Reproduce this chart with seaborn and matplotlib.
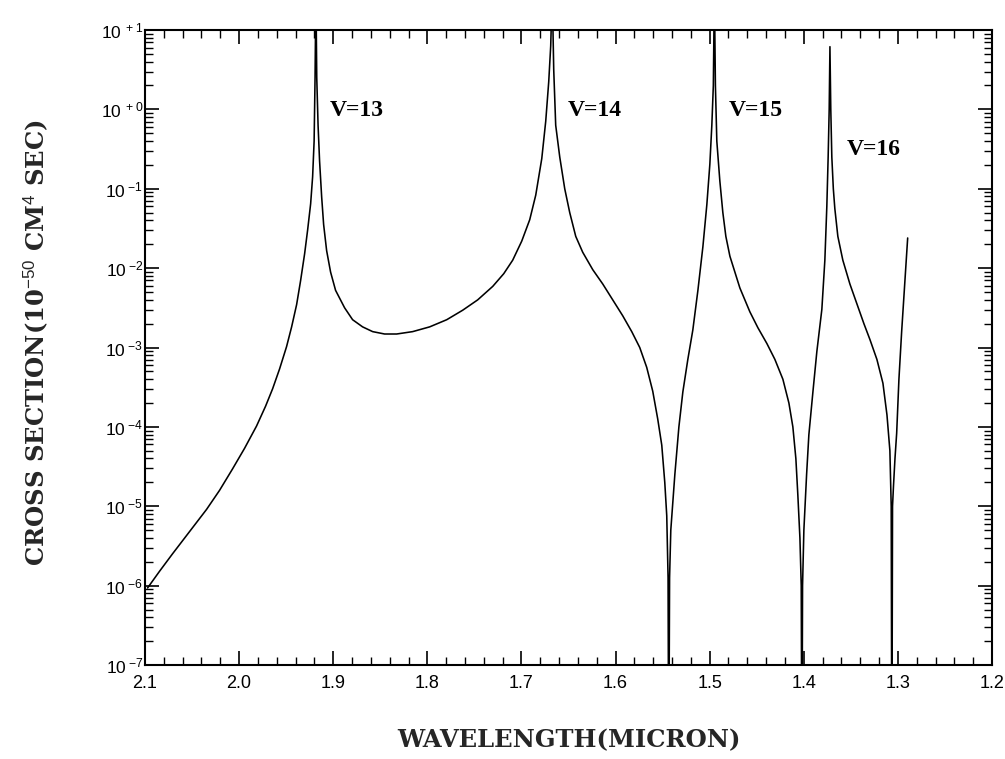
import numpy as np
import pandas as pd
import matplotlib
matplotlib.use("Agg")
import matplotlib.pyplot as plt
import seaborn as sns
from matplotlib.ticker import FixedLocator, FixedFormatter, MultipleLocator, LogLocator, NullFormatter

# ---- data (wavelength in micron, log10 of cross section) ----
wavelength = [
    2.0973, 2.0846, 2.0708, 2.0527, 2.0346, 2.0208, 2.0070, 1.9942, 1.9815, 1.9719,
    1.9644, 1.9570, 1.9496, 1.9442, 1.9389, 1.9347, 1.9304, 1.9272, 1.9240, 1.9219,
    1.9203, 1.9193, 1.9184, 1.9175, 1.9161, 1.9145, 1.9123, 1.9102, 1.9070, 1.9028,
    1.8975, 1.8879, 1.8794, 1.8688, 1.8581, 1.8454, 1.8326, 1.8156, 1.7975, 1.7794,
    1.7624, 1.7465, 1.7305, 1.7188, 1.7093, 1.6997, 1.6912, 1.6848, 1.6784, 1.6742,
    1.6710, 1.6689, 1.6673, 1.6657, 1.6636, 1.6593, 1.6540, 1.6487, 1.6423, 1.6349,
    1.6242, 1.6136, 1.6030, 1.5924, 1.5828, 1.5743, 1.5669, 1.5605, 1.5552, 1.5509,
    1.5477, 1.5456, 1.5442, 1.5435, 1.5426, 1.5413, 1.5370, 1.5327, 1.5285, 1.5232,
    1.5179, 1.5125, 1.5072, 1.5030, 1.4998, 1.4977, 1.4961, 1.4950, 1.4939, 1.4924,
    1.4892, 1.4860, 1.4828, 1.4785, 1.4732, 1.4679, 1.4573, 1.4488, 1.4392, 1.4307,
    1.4222, 1.4158, 1.4116, 1.4084, 1.4063, 1.4041, 1.4027, 1.4020, 1.4013, 1.3999,
    1.3970, 1.3946, 1.3903, 1.3861, 1.3808, 1.3776, 1.3755, 1.3741, 1.3730, 1.3722,
    1.3713, 1.3702, 1.3686, 1.3670, 1.3638, 1.3585, 1.3510, 1.3436, 1.3361, 1.3297,
    1.3223, 1.3159, 1.3116, 1.3085, 1.3071, 1.3064, 1.3057, 1.3047, 1.3031, 1.3013,
    1.2989, 1.2960, 1.2930, 1.2896,
]
log_cross_section = [
    -6.03, -5.82, -5.60, -5.32, -5.04, -4.80, -4.53, -4.27, -3.99, -3.74,
    -3.52, -3.27, -2.99, -2.74, -2.46, -2.16, -1.82, -1.52, -1.19, -0.85,
    -0.40, 0.40, 1.50, 0.40, -0.20, -0.65, -1.10, -1.45, -1.78, -2.05,
    -2.28, -2.50, -2.65, -2.74, -2.80, -2.83, -2.83, -2.80, -2.74, -2.65,
    -2.53, -2.40, -2.23, -2.07, -1.90, -1.66, -1.39, -1.08, -0.62, -0.15,
    0.35, 0.80, 1.50, 0.50, -0.20, -0.60, -1.00, -1.30, -1.60, -1.80,
    -2.02, -2.20, -2.40, -2.60, -2.80, -3.00, -3.25, -3.55, -3.90, -4.23,
    -4.70, -5.12, -5.90, -8.50, -5.90, -5.30, -4.60, -4.00, -3.56, -3.15,
    -2.78, -2.28, -1.73, -1.20, -0.69, -0.20, 0.30, 1.50, 0.30, -0.40,
    -0.90, -1.30, -1.60, -1.85, -2.05, -2.25, -2.55, -2.75, -2.95, -3.15,
    -3.40, -3.70, -4.00, -4.40, -4.86, -5.40, -6.00, -8.50, -6.00, -5.30,
    -4.60, -4.10, -3.56, -3.05, -2.52, -1.90, -1.22, -0.60, 0.00, 0.79,
    0.00, -0.60, -1.00, -1.25, -1.60, -1.90, -2.20, -2.45, -2.70, -2.90,
    -3.15, -3.45, -3.85, -4.30, -5.00, -8.50, -5.00, -4.75, -4.40, -4.08,
    -3.40, -2.80, -2.25, -1.62,
]

band_labels = ["V=13", "V=14", "V=15", "V=16"]
band_label_x = [1.904, 1.651, 1.480, 1.354]
band_label_y = [0.98, 0.98, 0.98, 0.31]

x_ticks = [2.1, 2.0, 1.9, 1.8, 1.7, 1.6, 1.5, 1.4, 1.3, 1.2]
x_tick_labels = ["2.1", "2.0", "1.9", "1.8", "1.7", "1.6", "1.5", "1.4", "1.3", "1.2"]
y_exponents = [1, 0, -1, -2, -3, -4, -5, -6, -7]
y_exponent_labels = ["+1", "+0", "-1", "-2", "-3", "-4", "-5", "-6", "-7"]

x_label = "WAVELENGTH(MICRON)"
y_label = r"CROSS SECTION(10$^{-50}$ CM$^{4}$ SEC)"

# ---- style ----
sns.set_style("ticks")
plt.rcParams["font.family"] = ["Liberation Sans", "DejaVu Sans"]
plt.rcParams["mathtext.fontset"] = "custom"
plt.rcParams["mathtext.rm"] = "Liberation Sans"
plt.rcParams["mathtext.it"] = "Liberation Sans"
plt.rcParams["mathtext.bf"] = "Liberation Sans:bold"

fig = plt.figure(figsize=(10.05, 7.59), dpi=100)
ax = fig.add_axes([145 / 1005, 1 - 665 / 759, 847 / 1005, 635 / 759])

df = pd.DataFrame({"wavelength": wavelength,
                   "cross_section": np.power(10.0, log_cross_section)})
sns.lineplot(data=df, x="wavelength", y="cross_section", sort=False,
             estimator=None, color="black", linewidth=1.15, ax=ax)

ax.set_yscale("log")
ax.set_xlim(2.1, 1.2)
ax.set_ylim(1e-7, 1e1)

ax.xaxis.set_major_locator(FixedLocator(x_ticks))
ax.xaxis.set_major_formatter(FixedFormatter(x_tick_labels))
ax.xaxis.set_minor_locator(MultipleLocator(0.02))

y_tick_vals = [10.0 ** e for e in y_exponents]
ax.yaxis.set_major_locator(FixedLocator(y_tick_vals))
ax.yaxis.set_major_formatter(FixedFormatter(
    [r"$\mathregular{10^{\ %s}}$" % lab.replace("-", "{-}") for lab in y_exponent_labels]))
ax.yaxis.set_minor_locator(LogLocator(base=10, subs=np.arange(2, 10), numticks=20))
ax.yaxis.set_minor_formatter(NullFormatter())

ax.tick_params(which="both", direction="in", top=True, right=True, colors="black")
ax.tick_params(which="major", length=10, width=1.2)
ax.tick_params(which="minor", length=5.5, width=1.0)
ax.tick_params(axis="x", which="major", labelsize=13, pad=7)
ax.tick_params(axis="y", which="major", labelsize=12.5, pad=1)

for sp in ax.spines.values():
    sp.set_linewidth(1.5)
    sp.set_color("black")

ax.set_xlabel(x_label, fontfamily="DejaVu Serif", fontweight="bold", fontsize=17.5, va="center")
ax.xaxis.set_label_coords(0.5, (665 - 740) / 635)
ax.set_ylabel(y_label, fontfamily="DejaVu Serif", fontweight="bold", fontsize=17.5,
              va="center", ha="center")
ax.yaxis.set_label_coords((36 - 145) / 847, (665 - 343) / 635)

for lab, lx, ly in zip(band_labels, band_label_x, band_label_y):
    ax.text(lx, ly, lab, fontfamily="Liberation Serif", fontweight="bold",
            fontsize=17, ha="left", va="center", color="black")

fig.savefig("out.png", dpi=100, facecolor="white")
